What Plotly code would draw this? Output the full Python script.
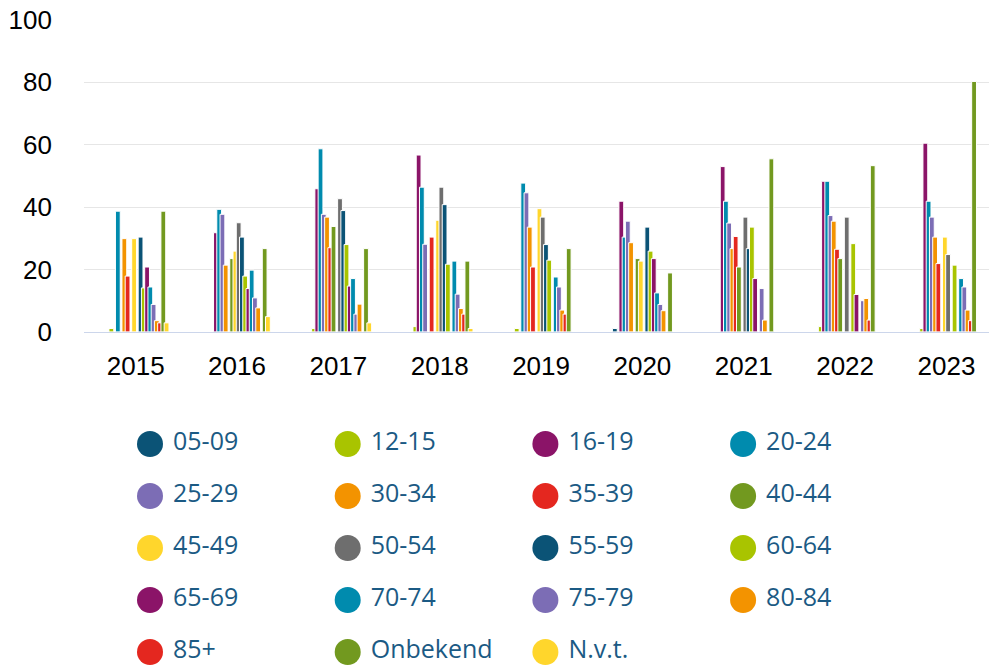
import plotly.graph_objects as go

years = [2015, 2016, 2017, 2018, 2019, 2020, 2021, 2022, 2023]

series_names = ["05-09", "12-15", "16-19", "20-24", "25-29", "30-34", "35-39", "40-44",
                "45-49", "50-54", "55-59", "60-64", "65-69", "70-74", "75-79", "80-84",
                "85+", "Onbekend", "N.v.t."]

NAVY, LIME, PURPLE, TEAL, LAV = "#0b5376", "#a9c400", "#8b1468", "#008bae", "#7c6db5"
ORANGE, RED, OLIVE, YELLOW, GREY = "#f39300", "#e4271f", "#72991f", "#ffd62c", "#6e6e6e"
series_colors = [NAVY, LIME, PURPLE, TEAL, LAV, ORANGE, RED, OLIVE, YELLOW, GREY,
                 NAVY, LIME, PURPLE, TEAL, LAV, ORANGE, RED, OLIVE, YELLOW]

v_05_09 = [None, None, None, None, None, 1.1, None, None, None]
v_12_15 = [1.1, None, 1.1, 1.7, 1.1, None, None, 1.7, 1.1]
v_16_19 = [None, 31.8, 45.9, 56.7, None, 41.9, 53.0, 48.3, 60.5]
v_20_24 = [38.7, 39.3, 58.7, 46.4, 47.7, 30.4, 41.9, 48.3, 41.9]
v_25_29 = [None, 37.7, 37.7, 28.1, 44.6, 35.5, 34.9, 37.3, 36.8]
v_30_34 = [29.9, 21.4, 36.8, None, 33.6, 28.6, 26.7, 35.5, 30.4]
v_35_39 = [17.9, None, 27.0, 30.4, 20.8, None, 30.6, 26.5, 21.9]
v_40_44 = [None, 23.5, 33.8, None, None, 23.5, 20.8, 23.5, None]
v_45_49 = [29.9, 25.9, None, 35.8, 39.5, 22.7, None, None, 30.4]
v_50_54 = [None, 35.0, 42.7, 46.4, 36.8, None, 36.8, 36.8, 24.8]
v_55_59 = [30.4, 30.4, 38.9, 40.8, 28.0, 33.6, 26.7, None, None]
v_60_64 = [14.1, 17.9, 28.0, 21.7, 23.0, 25.9, 33.6, 28.3, 21.4]
v_65_69 = [20.8, 13.9, 14.7, None, None, 23.5, 17.1, 12.0, None]
v_70_74 = [14.4, 19.8, 17.1, 22.7, 17.6, 12.5, None, None, 17.1]
v_75_79 = [8.8, 10.9, 5.7, 12.1, 14.4, 8.8, 13.9, 10.0, 14.4]
v_80_84 = [3.6, 7.7, 8.9, 7.5, 7.0, 6.8, 3.8, 10.7, 7.0]
v_85 = [2.9, None, None, 5.7, 5.7, None, None, 3.8, 3.6]
v_onbekend = [38.7, 26.7, 26.7, 22.7, 26.7, 18.9, 55.5, 53.3, 80.3]
v_nvt = [2.9, 4.9, 2.9, 1.1, None, None, None, None, None]

series_values = [v_05_09, v_12_15, v_16_19, v_20_24, v_25_29, v_30_34, v_35_39, v_40_44,
                 v_45_49, v_50_54, v_55_59, v_60_64, v_65_69, v_70_74, v_75_79, v_80_84,
                 v_85, v_onbekend, v_nvt]

y_ticks = [0, 20, 40, 60, 80, 100]

PX_PER_YEAR = 101.4
slot = 3.25 / PX_PER_YEAR
bar_w = 4.8 / PX_PER_YEAR
first_center = -27.6 / PX_PER_YEAR

fig = go.Figure()
for i, (name, col, vals) in enumerate(zip(series_names, series_colors, series_values)):
    center = first_center + i * slot
    fig.add_trace(go.Bar(
        x=years, y=vals, name=name, width=bar_w, offset=center - bar_w / 2,
        marker=dict(color=col, line=dict(color="white", width=1)),
        showlegend=False, hoverinfo="skip",
    ))

# custom legend (4 columns): circle markers + labels
col_px, row_px = 197.7, 52.0
ncols = 4
leg_x = [k % ncols for k in range(len(series_names))]
leg_y = [k // ncols for k in range(len(series_names))]
fig.add_trace(go.Scatter(
    x=leg_x, y=leg_y, mode="markers",
    marker=dict(size=26, color=series_colors, line=dict(width=0)),
    xaxis="x2", yaxis="y2", showlegend=False, hoverinfo="skip", cliponaxis=False,
))
fig.add_trace(go.Scatter(
    x=[c + 23 / col_px for c in leg_x], y=leg_y, mode="text", text=series_names,
    textposition="middle right",
    textfont=dict(family="Open Sans", size=25, color="#1b5a84"),
    xaxis="x2", yaxis="y2", showlegend=False, hoverinfo="skip", cliponaxis=False,
))

row0 = 444
fig.update_layout(
    width=989, height=668,
    margin=dict(l=84, r=0, t=20, b=0, autoexpand=False),
    paper_bgcolor="white", plot_bgcolor="white",
    barmode="overlay",
    showlegend=False,
    font=dict(family="Liberation Sans, Arial, sans-serif", size=26, color="#000000"),
    xaxis=dict(
        range=[2014.49, 2023.42], tickvals=years, ticktext=[str(y) for y in years],
        showgrid=False, zeroline=False, showline=True, linecolor="#ccd6eb", linewidth=1,
        ticks="", ticklabelstandoff=11, tickfont=dict(size=26, color="#000000"),
        anchor="y", automargin=False,
    ),
    yaxis=dict(
        domain=[(668 - 331.9) / 648, 1], range=[0, 100], tickvals=y_ticks,
        showgrid=True, gridcolor="#e6e6e6", gridwidth=1, zeroline=False, showline=False,
        ticks="", ticklabelstandoff=31, tickfont=dict(size=26, color="#000000"),
        anchor="x", automargin=False,
    ),
    xaxis2=dict(
        domain=[0, 1], range=[(84 - 150) / col_px, (989 - 150) / col_px],
        visible=False, anchor="y2", automargin=False,
    ),
    yaxis2=dict(
        domain=[0, 0.46], range=[(668 - row0) / row_px, (369.9 - row0) / row_px],
        visible=False, anchor="x2", automargin=False,
    ),
)

fig.write_html("out.html", config={"displayModeBar": False},
               post_script="document.body.style.margin='0';")
